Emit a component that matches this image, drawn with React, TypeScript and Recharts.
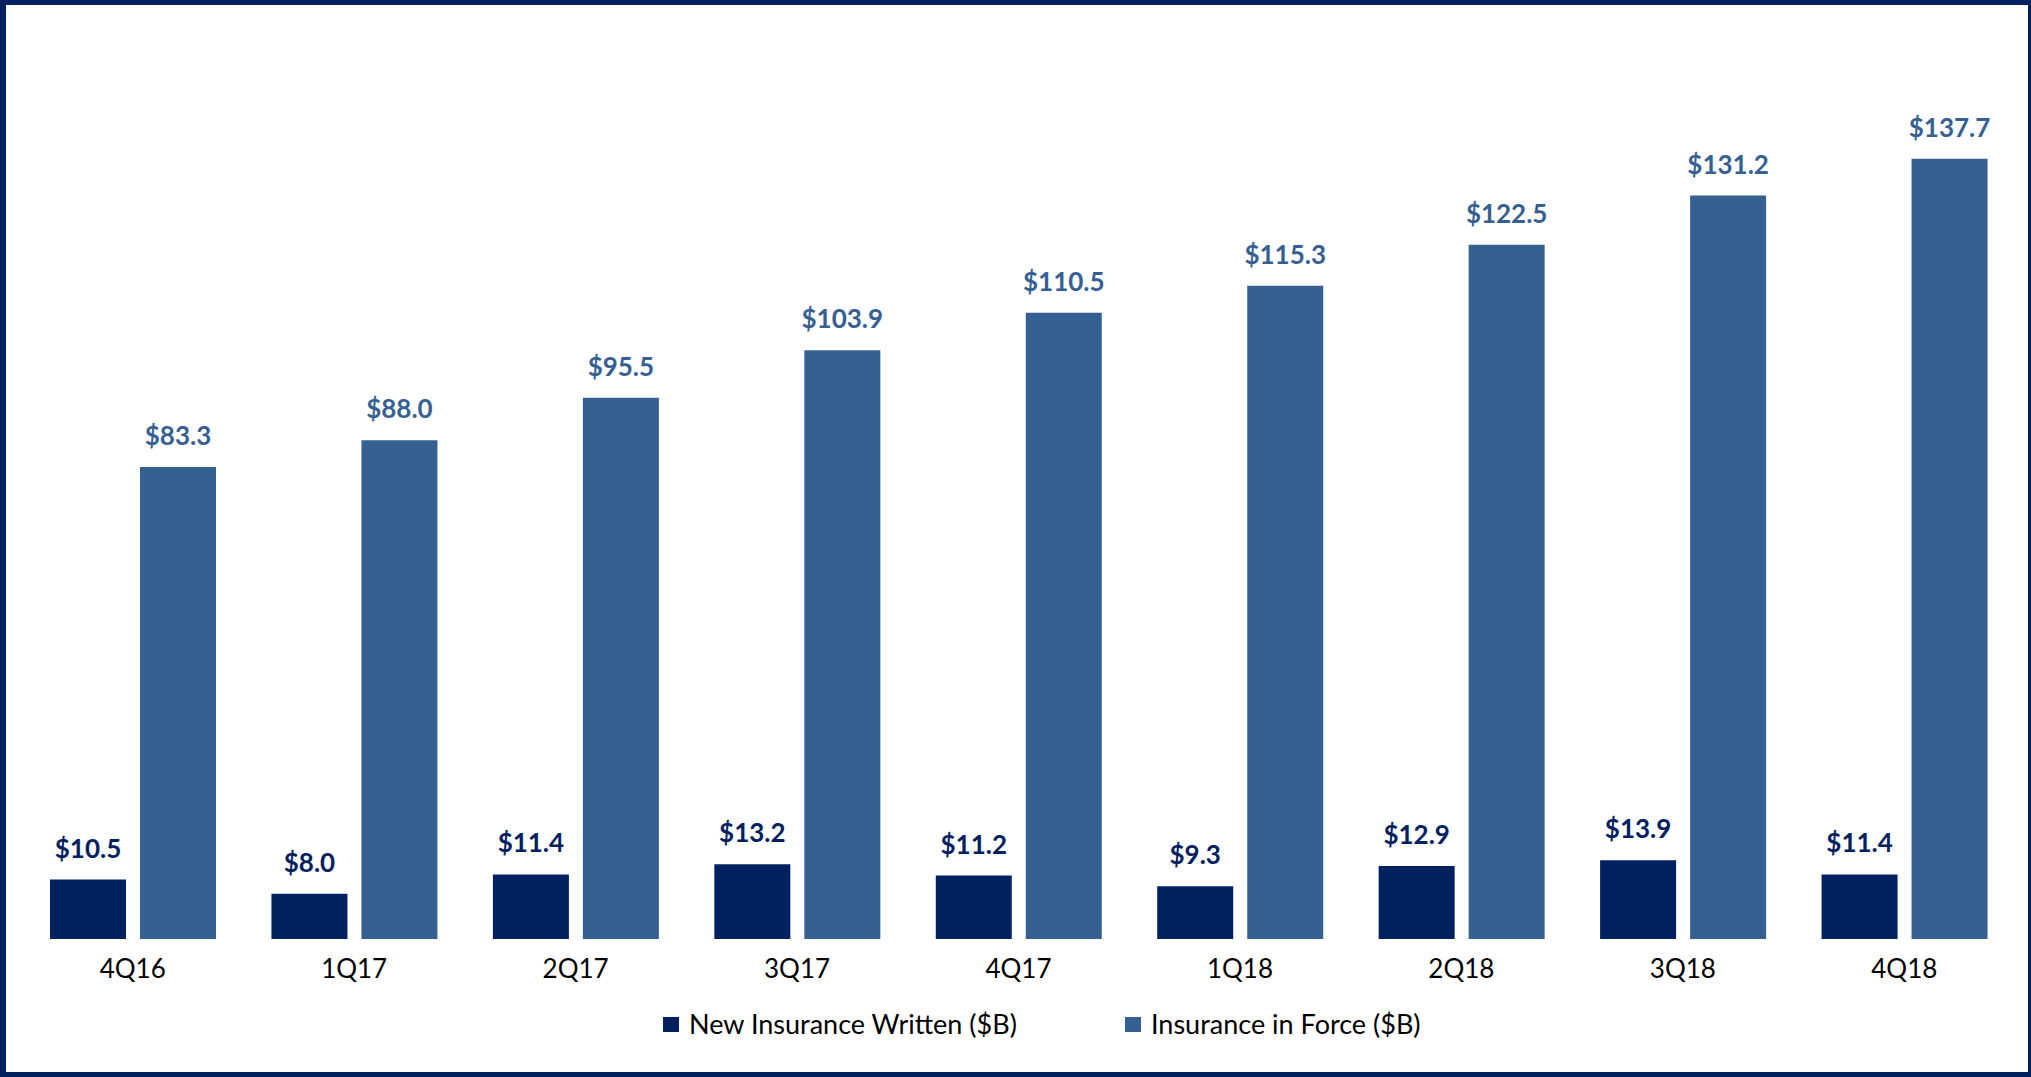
import React from 'react';
import { BarChart, Bar, XAxis, YAxis, LabelList, Legend } from 'recharts';

const categories = ['4Q16', '1Q17', '2Q17', '3Q17', '4Q17', '1Q18', '2Q18', '3Q18', '4Q18'];
const newInsuranceWritten = [10.5, 8.0, 11.4, 13.2, 11.2, 9.3, 12.9, 13.9, 11.4];
const insuranceInForce = [83.3, 88.0, 95.5, 103.9, 110.5, 115.3, 122.5, 131.2, 137.7];
const seriesNames = ['New Insurance Written ($B)', 'Insurance in Force ($B)'];

const NAVY = '#002060';
const STEEL = '#376092';
const FONT = 'Lato, "Open Sans", sans-serif';

const data = categories.map((q, i) => ({
  q,
  niw: newInsuranceWritten[i],
  iif: insuranceInForce[i],
}));

const fmt = (v: any) => `$${Number(v).toFixed(1)}`;

const legendLefts = [663, 1125];

const renderLegend = (props: any) => {
  const payload = [...(props.payload || [])].sort(
    (a: any, b: any) => seriesNames.indexOf(a.value) - seriesNames.indexOf(b.value)
  );
  return (
    <div style={{ position: 'relative', width: '100%', height: '100%' }}>
      {payload.map((entry: any, i: number) => (
        <div
          key={i}
          style={{
            position: 'absolute',
            left: legendLefts[i] ?? 0,
            top: 0,
            display: 'flex',
            alignItems: 'center',
            whiteSpace: 'nowrap',
          }}
        >
          <span
            style={{
              display: 'inline-block',
              width: 16,
              height: 15,
              background: entry.color,
              marginRight: 10,
            }}
          />
          <span style={{ fontFamily: FONT, fontSize: 27, color: '#000', lineHeight: '30px' }}>
            {entry.value}
          </span>
        </div>
      ))}
    </div>
  );
};

export default function App() {
  return (
    <div style={{ position: 'relative', width: 2031, height: 1077, background: '#fff', overflow: 'hidden' }}>
      <style>{'body{margin:0;}'}</style>
      <BarChart
        width={2031}
        height={1077}
        data={data}
        margin={{ top: 89, right: 16, bottom: 98, left: 22 }}
        barSize={76}
        barGap={14}
      >
        <XAxis
          dataKey="q"
          axisLine={false}
          tickLine={false}
          tickSize={0}
          tickMargin={21}
          height={40}
          interval={0}
          tick={{ fill: '#000', fontSize: 26, fontFamily: FONT }}
        />
        <YAxis hide domain={[0, 150]} />
        <Legend
          layout="horizontal"
          verticalAlign="middle"
          align="center"
          content={renderLegend}
          wrapperStyle={{ position: 'absolute', left: 0, top: 1009, width: 2031, height: 30 }}
        />
        <Bar dataKey="niw" name={seriesNames[0]} fill={NAVY} isAnimationActive={false}>
          <LabelList
            dataKey="niw"
            position="top"
            offset={22}
            formatter={fmt}
            style={{ fill: NAVY, fontSize: 26, fontWeight: 700, fontFamily: FONT }}
          />
        </Bar>
        <Bar dataKey="iif" name={seriesNames[1]} fill={STEEL} isAnimationActive={false}>
          <LabelList
            dataKey="iif"
            position="top"
            offset={22}
            formatter={fmt}
            style={{ fill: STEEL, fontSize: 26, fontWeight: 700, fontFamily: FONT }}
          />
        </Bar>
      </BarChart>
      <div
        style={{
          position: 'absolute',
          left: 0,
          top: 0,
          width: 2031,
          height: 1077,
          boxSizing: 'border-box',
          borderTop: `5px solid ${NAVY}`,
          borderBottom: `5px solid ${NAVY}`,
          borderLeft: `6px solid ${NAVY}`,
          borderRight: `3px solid ${NAVY}`,
          pointerEvents: 'none',
        }}
      />
    </div>
  );
}
